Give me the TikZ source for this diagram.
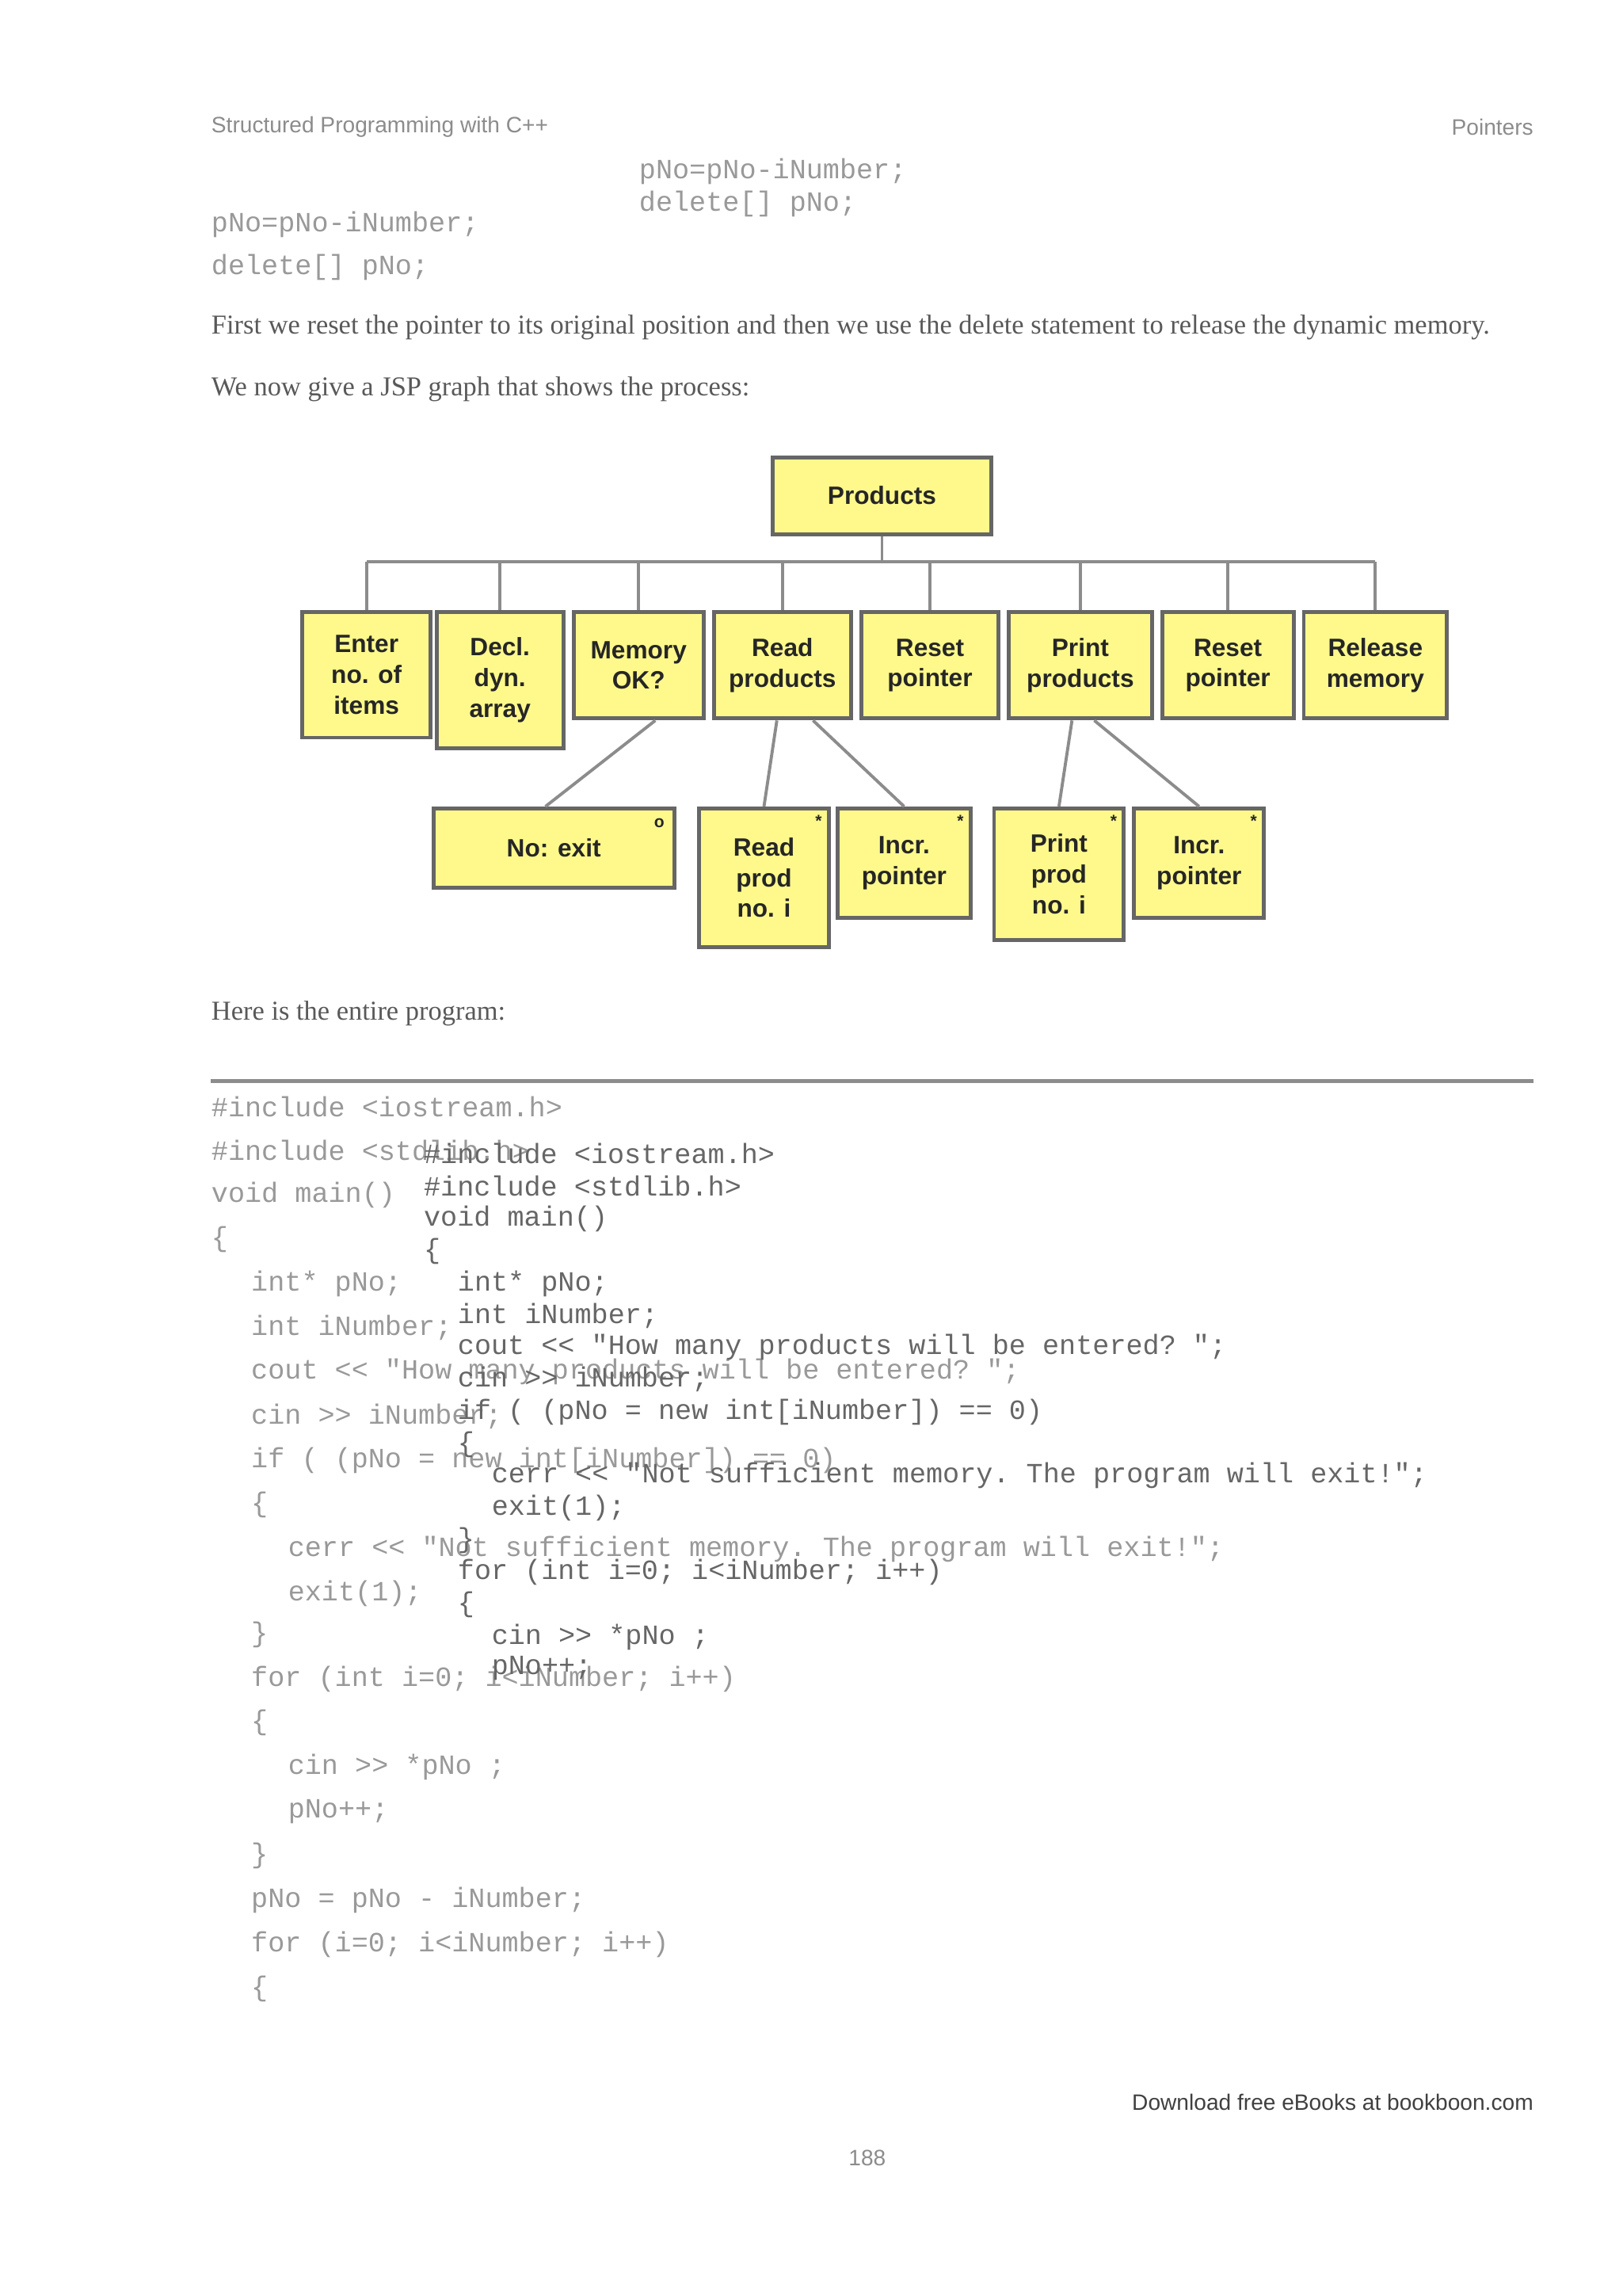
\documentclass[tikz,border=0pt]{standalone}
\usepackage{fontspec}
\setmainfont{Liberation Serif}
\setsansfont{Liberation Sans}
\setmonofont{Liberation Mono}
\begin{document}
\begin{tikzpicture}[x=0.01862cm,y=-0.01862cm,
  jbox/.style={draw=black!60,line width=1.4pt,fill=yellow!45,align=center,inner sep=1pt,
    font=\sffamily\bfseries\fontsize{9}{11}\selectfont,text=black!85},
  conn/.style={draw=black!45,line width=1.1pt},
  jmark/.style={font=\sffamily\bfseries\fontsize{6}{6}\selectfont,text=black!85,inner sep=0pt},
  codeA/.style={anchor=west,inner sep=0pt,font=\ttfamily\fontsize{10}{10}\selectfont,text=black!40},
  codeB/.style={anchor=west,inner sep=0pt,font=\ttfamily\fontsize{10}{10}\selectfont,text=black!60},
  body/.style={anchor=west,inner sep=0pt,font=\rmfamily\fontsize{9.8}{9.8}\selectfont,text=black!65},
  head/.style={inner sep=0pt,font=\sffamily\fontsize{8}{8}\selectfont,text=black!45}]
\useasboundingbox[fill=white] (0,0) rectangle (1100,1556.4);
% header
\node[head,anchor=west] (h1) at (143,86) {Structured Programming with C++};
\node[head,anchor=east] (h2) at (1040,86) {Pointers};
\node[codeA] (c01) at (433,116) {pNo=pNo-iNumber;};
\node[codeA] (c02) at (433,138) {delete[] pNo;};
\node[codeA] (c03) at (143,152) {pNo=pNo-iNumber;};
\node[codeA] (c04) at (143,181) {delete[] pNo;};
\node[body] (p1) at (143,222) {First we reset the pointer to its original position and then we use the delete statement to release the dynamic memory.};
\node[body] (p2) at (143,264) {We now give a JSP graph that shows the process:};
% diagram
\node[jbox,minimum width=78.4pt,minimum height=27.6pt] (prod) at (598,336) {Products};
\coordinate (bus) at (598,381);
\node[jbox,minimum width=46.1pt,minimum height=45pt] (enter) at (248.5,457.5) {Enter\\no. of\\items};
\node[jbox,minimum width=45.6pt,minimum height=48.8pt] (decl) at (339,461) {Decl.\\dyn.\\array};
\node[jbox,minimum width=46.6pt,minimum height=38.2pt] (mem) at (433,451) {Memory\\OK?};
\node[jbox,minimum width=49.3pt,minimum height=38.2pt] (readp) at (530.5,451) {Read\\products};
\node[jbox,minimum width=49.3pt,minimum height=38.2pt] (reset1) at (630.5,451) {Reset\\pointer};
\node[jbox,minimum width=51.4pt,minimum height=38.2pt] (printp) at (732.5,451) {Print\\products};
\node[jbox,minimum width=47.2pt,minimum height=38.2pt] (reset2) at (832.5,451) {Reset\\pointer};
\node[jbox,minimum width=51.4pt,minimum height=38.2pt] (rel) at (932.5,451) {Release\\memory};
\node[jbox,minimum width=86.4pt,minimum height=28.6pt] (noexit) at (375.5,575) {No: exit};
\node[jbox,minimum width=46.6pt,minimum height=49.8pt] (rprod) at (518,595) {Read\\prod\\no. i};
\node[jbox,minimum width=47.7pt,minimum height=39.2pt] (incr1) at (613,585) {Incr.\\pointer};
\node[jbox,minimum width=46.6pt,minimum height=47.2pt] (pprod) at (718,592.5) {Print\\prod\\no. i};
\node[jbox,minimum width=46.6pt,minimum height=39.2pt] (incr2) at (813,585) {Incr.\\pointer};
\node[jmark,anchor=north east] (m0) at ([xshift=-4pt,yshift=-4pt]noexit.north east) {o};
\node[jmark,anchor=north east] (m1) at ([xshift=-3pt,yshift=-3pt]rprod.north east) {*};
\node[jmark,anchor=north east] (m2) at ([xshift=-3pt,yshift=-3pt]incr1.north east) {*};
\node[jmark,anchor=north east] (m3) at ([xshift=-3pt,yshift=-3pt]pprod.north east) {*};
\node[jmark,anchor=north east] (m4) at ([xshift=-3pt,yshift=-3pt]incr2.north east) {*};
\draw[conn] (prod.south) -- (bus);
\draw[conn] (enter.north |- bus) -- (rel.north |- bus);
\foreach \n in {enter,decl,mem,readp,reset1,printp,reset2,rel}
  \draw[conn] (\n.north |- bus) -- (\n.north);
\draw[conn] ([xshift=6pt]mem.south) -- ([xshift=-3pt]noexit.north);
\draw[conn] ([xshift=-2pt]readp.south) -- (rprod.north);
\draw[conn] ([xshift=11pt]readp.south) -- (incr1.north);
\draw[conn] ([xshift=-3pt]printp.south) -- (pprod.north);
\draw[conn] ([xshift=5pt]printp.south) -- (incr2.north);
\node[body] (p3) at (143,687) {Here is the entire program:};
\draw[draw=black!45,line width=1.5pt] (143,733) -- (1040,733);
% left code column
\node[codeA] at (143,750) {\#include <iostream.h>};
\node[codeA] at (143,780) {\#include <stdlib.h>};
\node[codeA] at (143,810) {void main()};
\node[codeA] at (143,840) {\{};
\node[codeA] at (170,870) {int* pNo;};
\node[codeA] at (170,900) {int iNumber;};
\node[codeA] at (170,930) {cout << "How many products will be entered? ";};
\node[codeA] at (170,960) {cin >> iNumber;};
\node[codeA] at (170,990) {if ( (pNo = new int[iNumber]) == 0)};
\node[codeA] at (170,1020) {\{};
\node[codeA] at (195,1050) {cerr << "Not sufficient memory. The program will exit!";};
\node[codeA] at (195,1080) {exit(1);};
\node[codeA] at (170,1108) {\}};
\node[codeA] at (170,1138) {for (int i=0; i<iNumber; i++)};
\node[codeA] at (170,1168) {\{};
\node[codeA] at (195,1198) {cin >> *pNo ;};
\node[codeA] at (195,1228) {pNo++;};
\node[codeA] at (170,1258) {\}};
\node[codeA] at (170,1288) {pNo = pNo - iNumber;};
\node[codeA] at (170,1318) {for (i=0; i<iNumber; i++)};
\node[codeA] at (170,1348) {\{};
% overlay code column
\node[codeB] at (287,782) {\#include <iostream.h>};
\node[codeB] at (287,804) {\#include <stdlib.h>};
\node[codeB] at (287,826) {void main()};
\node[codeB] at (287,848) {\{};
\node[codeB] at (310,870) {int* pNo;};
\node[codeB] at (310,892) {int iNumber;};
\node[codeB] at (310,913) {cout << "How many products will be entered? ";};
\node[codeB] at (310,935) {cin >> iNumber;};
\node[codeB] at (310,957) {if ( (pNo = new int[iNumber]) == 0)};
\node[codeB] at (310,979) {\{};
\node[codeB] at (333,1000) {cerr << "Not sufficient memory. The program will exit!";};
\node[codeB] at (333,1022) {exit(1);};
\node[codeB] at (310,1044) {\}};
\node[codeB] at (310,1066) {for (int i=0; i<iNumber; i++)};
\node[codeB] at (310,1088) {\{};
\node[codeB] at (333,1110) {cin >> *pNo ;};
\node[codeB] at (333,1131) {pNo++;};
% footer
\node[head,anchor=east,text=black!75] (f1) at (1040,1425) {Download free eBooks at bookboon.com};
\node[head] (f2) at (588,1463) {188};
\end{tikzpicture}
\end{document}
